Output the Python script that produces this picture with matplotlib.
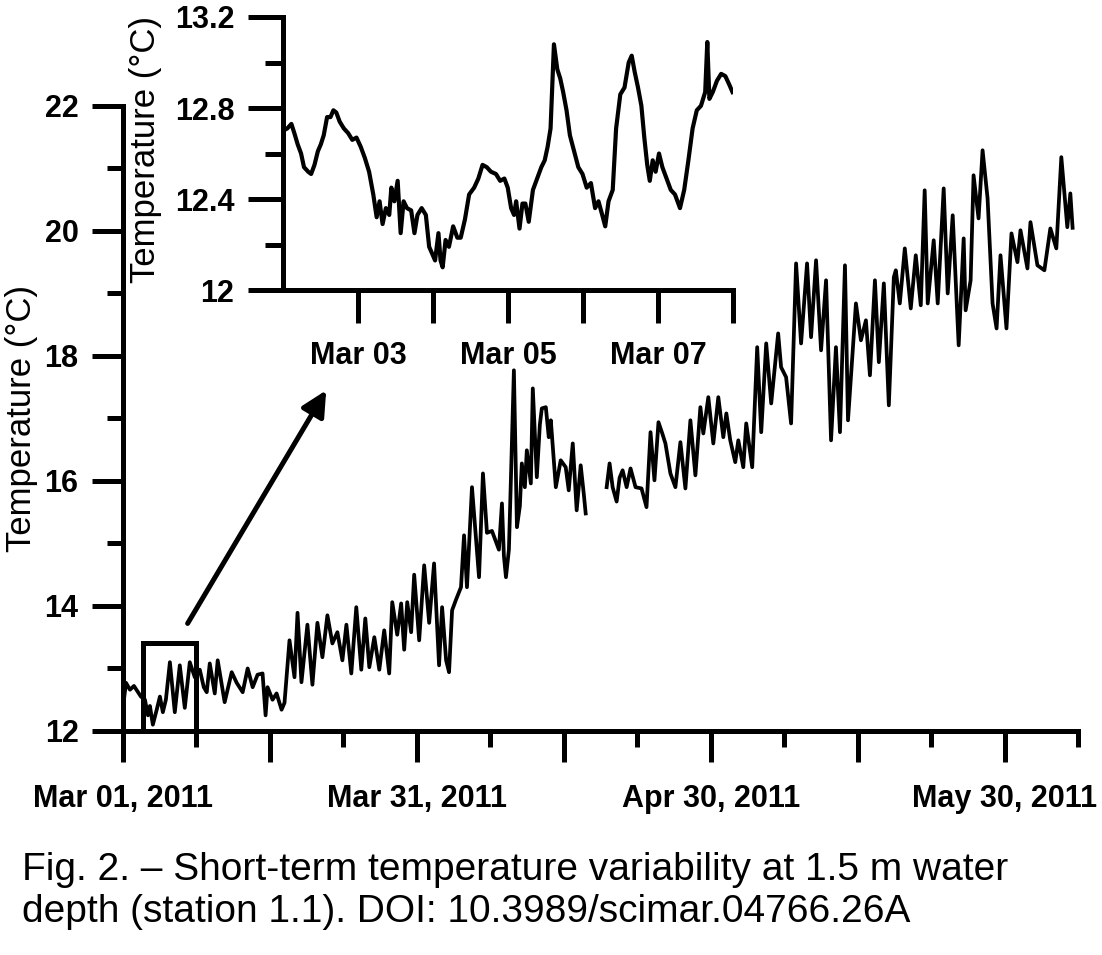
import numpy as np
import pandas as pd
import matplotlib
matplotlib.use("Agg")
import matplotlib.pyplot as plt
from matplotlib.patches import Rectangle

plt.rcParams['font.family'] = ['Liberation Sans', 'DejaVu Sans']

# main record: days since Mar 01 2011, temperature (degC); nan marks the logger gap
days = [0.00, 0.31, 0.71, 1.12, 1.53, 1.83, 2.24, 2.55, 2.75, 3.05, 3.46, 3.77, 4.07, 4.38,
        4.79, 5.29, 5.80, 6.31, 6.82, 7.33, 7.84, 8.25, 8.55, 8.86, 9.37, 9.67, 10.38, 11.10,
        11.61, 12.22, 12.73, 13.24, 13.74, 14.25, 14.56, 14.76, 15.27, 15.68, 16.19, 16.49,
        17.00, 17.51, 17.82, 18.22, 18.83, 19.34, 19.85, 20.36, 20.87, 21.38, 21.89, 22.40,
        22.81, 23.31, 23.82, 24.33, 24.74, 25.15, 25.66, 26.17, 26.67, 27.18, 27.49, 28.00,
        28.40, 28.71, 29.02, 29.42, 29.73, 30.24, 30.75, 31.26, 31.76, 32.27, 32.58, 32.99,
        33.29, 33.60, 34.00, 34.51, 34.82, 35.12, 35.63, 36.35, 36.75, 37.16, 37.67, 38.38,
        38.69, 38.89, 39.10, 39.40, 39.60, 39.91, 40.22, 40.52, 40.72, 41.03, 41.23, 41.64,
        41.84, 42.25, 42.56, 42.76, 43.17, 43.47, 43.68, 44.19, 44.69, 45.20, 45.51, 45.92,
        46.32, 46.73, 47.04, 47.24, 48.30,
        49.38, 49.68, 49.99, 50.40, 50.70, 51.01, 51.42, 51.82, 52.33, 52.94, 53.45, 53.86,
        54.26, 54.67, 55.08, 55.38, 55.89, 56.40, 56.91, 57.42, 57.93, 58.44, 58.95, 59.25,
        59.76, 60.27, 60.78, 61.29, 61.60, 62.00, 62.51, 62.82, 63.33, 63.63, 64.24, 64.75,
        65.16, 65.67, 66.18, 66.89, 67.19, 67.70, 68.21, 68.72, 69.23, 69.84, 70.25, 70.76,
        71.27, 71.78, 72.29, 72.79, 73.20, 73.71, 74.02, 74.83, 75.34, 75.85, 76.26, 76.77,
        77.17, 77.68, 78.19, 78.70, 78.90, 79.31, 79.82, 80.43, 80.94, 81.45, 81.85, 82.16,
        82.77, 83.18, 83.79, 84.20, 84.71, 85.32, 85.83, 86.03, 86.54, 86.84, 87.35, 87.76,
        88.27, 88.78, 89.19, 89.59, 90.20, 90.71, 91.32, 91.63, 92.34, 92.65, 93.36, 94.07,
        94.68, 95.29, 95.80, 96.41, 96.72, 96.95]
temps = [12.38, 12.77, 12.66, 12.72, 12.62, 12.55, 12.50, 12.25, 12.40, 12.10, 12.35, 12.55, 12.30, 12.50,
         13.10, 12.30, 13.05, 12.37, 13.10, 12.86, 12.98, 12.70, 12.62, 13.08, 12.60, 13.13, 12.46, 12.94,
         12.77, 12.62, 13.00, 12.70, 12.90, 12.92, 12.25, 12.70, 12.50, 12.60, 12.34, 12.45,
         13.45, 12.86, 13.89, 12.78, 13.70, 12.74, 13.73, 13.18, 13.85, 13.40, 13.58, 13.13,
         13.70, 12.92, 13.98, 12.98, 13.80, 13.02, 13.50, 12.98, 13.61, 12.92, 14.06, 13.54,
         14.04, 13.30, 14.06, 13.58, 14.50, 13.45, 14.65, 13.73, 14.68, 13.05, 13.98, 13.13,
         12.94, 13.93, 14.10, 14.30, 15.13, 14.30, 15.90, 14.46, 16.12, 15.17, 15.20, 14.90,
         15.64, 14.80, 14.46, 14.90, 16.00, 17.77, 15.26, 15.60, 16.28, 15.90, 16.49, 15.96,
         17.48, 16.06, 16.90, 17.16, 17.18, 16.70, 16.97, 15.90, 16.33, 16.22, 15.85, 16.60,
         15.53, 16.25, 15.80, 15.48, np.nan,
         15.90, 16.28, 15.90, 15.67, 16.05, 16.17, 15.90, 16.20, 15.90, 15.88, 15.58, 16.78,
         16.01, 16.94, 16.75, 16.60, 16.12, 15.90, 16.62, 15.88, 16.97, 16.09, 17.18, 16.76,
         17.34, 16.60, 17.34, 16.70, 17.08, 16.65, 16.30, 16.65, 16.22, 16.92, 16.22, 18.14,
         16.78, 18.20, 17.24, 18.36, 17.82, 17.66, 16.92, 19.48, 18.20, 19.48, 18.30, 19.53,
         18.09, 19.21, 16.65, 18.14, 16.78, 19.45, 16.97, 18.84, 18.25, 18.57, 17.69, 19.21,
         17.90, 19.16, 17.21, 19.26, 19.37, 18.84, 19.72, 18.76, 19.61, 18.81, 20.65, 18.84,
         19.85, 18.84, 20.68, 19.00, 20.25, 18.17, 19.88, 18.73, 19.21, 20.89, 20.20, 21.29,
         20.52, 18.84, 18.44, 19.61, 18.44, 19.96, 19.50, 20.01, 19.40, 20.14, 19.45, 19.37,
         20.04, 19.72, 21.18, 20.06, 20.60, 20.05]

# inset detail, Mar 02 - Mar 08
zoom_days = [1.000, 1.056, 1.112, 1.151, 1.196, 1.241, 1.280, 1.336, 1.375, 1.420, 1.465, 1.504,
             1.543, 1.588, 1.633, 1.672, 1.711, 1.756, 1.812, 1.868, 1.924, 1.980, 2.036, 2.092,
             2.148, 2.204, 2.249, 2.288, 2.328, 2.372, 2.417, 2.445, 2.485, 2.529, 2.569, 2.608,
             2.653, 2.709, 2.753, 2.793, 2.849, 2.905, 2.949, 2.989, 3.028, 3.073, 3.101, 3.129,
             3.168, 3.213, 3.269, 3.325, 3.370, 3.426, 3.482, 3.549, 3.605, 3.661, 3.717, 3.773,
             3.840, 3.896, 3.952, 3.997, 4.042, 4.081, 4.109, 4.154, 4.193, 4.232, 4.277, 4.333,
             4.389, 4.445, 4.490, 4.529, 4.568, 4.613, 4.658, 4.697, 4.736, 4.781, 4.826, 4.882,
             4.938, 4.994, 5.050, 5.106, 5.162, 5.207, 5.257, 5.297, 5.341, 5.397, 5.442, 5.498,
             5.554, 5.610, 5.650, 5.689, 5.734, 5.779, 5.818, 5.857, 5.891, 5.930, 5.969, 6.014,
             6.059, 6.115, 6.171, 6.227, 6.294, 6.350, 6.406, 6.462, 6.518, 6.574, 6.630, 6.658,
             6.686, 6.731, 6.787, 6.843, 6.899, 6.955, 6.994]
zoom_temps = [12.70, 12.71, 12.73, 12.69, 12.64, 12.60, 12.54, 12.52, 12.51, 12.55, 12.61, 12.64,
              12.68, 12.76, 12.76, 12.79, 12.78, 12.74, 12.71, 12.69, 12.66, 12.67, 12.63, 12.58,
              12.52, 12.42, 12.32, 12.39, 12.29, 12.36, 12.33, 12.45, 12.39, 12.48, 12.25, 12.39,
              12.36, 12.35, 12.25, 12.33, 12.36, 12.33, 12.19, 12.16, 12.13, 12.25, 12.13, 12.10,
              12.22, 12.19, 12.28, 12.23, 12.23, 12.31, 12.42, 12.45, 12.49, 12.55, 12.54, 12.52,
              12.51, 12.48, 12.49, 12.45, 12.36, 12.33, 12.39, 12.27, 12.38, 12.38, 12.30, 12.44,
              12.49, 12.54, 12.57, 12.63, 12.71, 13.08, 12.97, 12.93, 12.87, 12.79, 12.68, 12.61,
              12.54, 12.51, 12.45, 12.47, 12.36, 12.39, 12.33, 12.28, 12.39, 12.44, 12.71, 12.86,
              12.89, 13.00, 13.03, 12.96, 12.89, 12.81, 12.67, 12.55, 12.48, 12.57, 12.52, 12.60,
              12.54, 12.49, 12.44, 12.42, 12.36, 12.44, 12.57, 12.71, 12.79, 12.81, 12.87, 13.09,
              12.84, 12.87, 12.92, 12.95, 12.94, 12.90, 12.87]

start = pd.Timestamp('2011-03-01')
t_main = start + pd.to_timedelta(days, unit='D')
t_zoom = start + pd.to_timedelta(zoom_days, unit='D')

caption = ["Fig. 2. \u2013 Short-term temperature variability at 1.5 m water",
           "depth (station 1.1). DOI: 10.3989/scimar.04766.26A"]

LW = 3.6
tick_font = dict(fontsize=22, fontweight='bold')


def style_axes(a):
    for s in ['top', 'right']:
        a.spines[s].set_visible(False)
    for s in ['left', 'bottom']:
        a.spines[s].set_linewidth(LW)
    a.set_facecolor('none')


fig = plt.figure(figsize=(11.02, 9.55), dpi=100)

# ---- main axes
ax = fig.add_axes([0.1116, 0.2346, 0.8666, 0.6545])
ax.plot(t_main, temps, color='k', lw=2.7)
style_axes(ax)
ax.set_ylim(12, 22)
ax.set_xlim(start, start + pd.Timedelta(days=97.2))

major_d = list(range(0, 91, 15))
ax.set_xticks([start + pd.Timedelta(days=d) for d in major_d])
ax.set_xticklabels([(start + pd.Timedelta(days=d)).strftime('%b %d, %Y') if d % 30 == 0 else ''
                    for d in major_d], **tick_font)
ax.set_xticks([start + pd.Timedelta(days=d + 7.5) for d in major_d], minor=True)
ax.set_yticks(range(12, 23, 2))
ax.set_yticklabels([str(v) for v in range(12, 23, 2)], **tick_font)
ax.set_yticks(range(13, 22, 2), minor=True)
ax.tick_params(which='major', direction='out', length=22, width=LW)
ax.tick_params(which='minor', direction='out', length=11.5, width=LW)
ax.tick_params(axis='x', which='major', pad=16)
ax.tick_params(axis='y', which='major', pad=10)
ax.set_ylabel('Temperature (\u00b0C)', fontsize=25)
ax.yaxis.set_label_coords(-0.089, 0.5)

# box marking the zoomed period and arrow to the inset
ax.add_patch(Rectangle((start + pd.Timedelta(days=2.0), 12.0), pd.Timedelta(days=5.5), 1.4,
                       fill=False, lw=LW, ec='k', clip_on=False, zorder=3))
ax.annotate('', xy=(start + pd.Timedelta(days=20.75), 17.45),
            xytext=(start + pd.Timedelta(days=6.6), 13.72),
            arrowprops=dict(arrowstyle='-|>', lw=LW, color='k', mutation_scale=38,
                            shrinkA=0, shrinkB=0))

# ---- inset
axi = fig.add_axes([0.2568, 0.6963, 0.4083, 0.2859])
axi.plot(t_zoom, zoom_temps, color='k', lw=3.0)
style_axes(axi)
axi.set_ylim(12, 13.2)
axi.set_xlim(start + pd.Timedelta(days=1), start + pd.Timedelta(days=7))
inset_d = [2, 3, 4, 5, 6, 7]
axi.set_xticks([start + pd.Timedelta(days=d) for d in inset_d])
axi.set_xticklabels([(start + pd.Timedelta(days=d)).strftime('%b %d') if d % 2 == 0 else ''
                     for d in inset_d], **tick_font)
axi.set_yticks([12, 12.4, 12.8, 13.2])
axi.set_yticklabels(['12', '12.4', '12.8', '13.2'], **tick_font)
axi.set_yticks([12.2, 12.6, 13.0], minor=True)
axi.tick_params(axis='x', which='major', direction='out', length=24, width=LW, pad=13)
axi.tick_params(axis='y', which='major', direction='out', length=25, width=LW, pad=10)
axi.tick_params(axis='y', which='minor', direction='out', length=13, width=LW)
axi.set_ylabel('Temperature (\u00b0C)', fontsize=25)
axi.yaxis.set_label_coords(-0.27, 0.513)

fig.text(22 / 1102, 1 - 870 / 955, caption[0], fontsize=28, va='center', ha='left')
fig.text(22 / 1102, 1 - 912 / 955, caption[1], fontsize=28, va='center', ha='left')

fig.savefig('out.png', dpi=100)
